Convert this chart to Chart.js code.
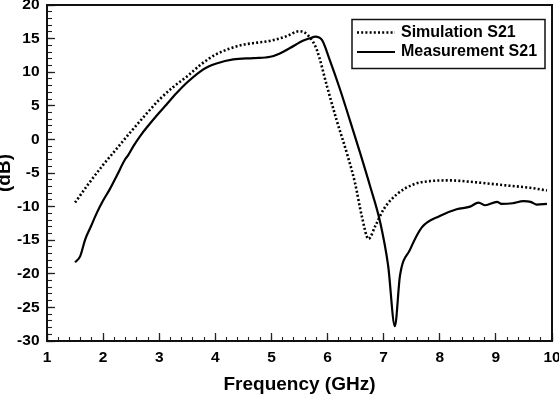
<!DOCTYPE html>
<html><head><meta charset="utf-8">
<script src="https://cdn.jsdelivr.net/npm/chart.js@4.4.1/dist/chart.umd.min.js"></script>
<style>html,body{margin:0;padding:0;background:#fff}#wrap{width:559px;height:402px}</style>
</head><body><div id="wrap"><canvas id="c" width="559" height="402"></canvas></div>
<script>
// ---- data ----
const simFreq = [1.5, 1.75, 2.0, 2.25, 2.5, 2.75, 3.0, 3.25, 3.5, 3.75, 4.0, 4.25, 4.5, 4.75, 5.0, 5.25, 5.5, 5.65, 5.81, 5.99, 6.16, 6.36, 6.49, 6.61, 6.73, 6.85, 7.0, 7.23, 7.53, 7.83, 8.18, 8.54, 8.9, 9.25, 9.61, 9.91];
const simS21  = [-9.4, -6.5, -3.8, -1.3, 1.2, 3.6, 5.9, 7.8, 9.4, 11.2, 12.6, 13.5, 14.1, 14.4, 14.7, 15.3, 16.1, 15.5, 13.3, 7.9, 2.9, -2.5, -6.5, -11.4, -14.8, -12.9, -10.4, -8.2, -6.7, -6.2, -6.1, -6.3, -6.6, -6.9, -7.2, -7.6];
const measFreq = [1.5, 1.59, 1.68, 1.78, 1.89, 2.0, 2.12, 2.25, 2.39, 2.45, 2.54, 2.66, 2.8, 2.96, 3.13, 3.31, 3.5, 3.73, 3.87, 4.02, 4.32, 4.68, 4.98, 5.15, 5.33, 5.57, 5.7, 5.78, 5.9, 6.04, 6.22, 6.4, 6.58, 6.76, 6.94, 7.08, 7.2, 7.29, 7.47, 7.68, 8.0, 8.3, 8.54, 8.69, 8.81, 9.02, 9.1, 9.3, 9.49, 9.62, 9.73, 9.91];
const measS21  = [-18.3, -17.4, -14.9, -13.0, -10.9, -9.1, -7.4, -5.3, -3.0, -2.3, -1.0, 0.5, 2.0, 3.6, 5.2, 6.9, 8.5, 10.1, 10.8, 11.3, 11.9, 12.1, 12.3, 12.8, 13.6, 14.7, 15.1, 15.3, 14.8, 11.8, 7.5, 2.8, -2.0, -7.0, -12.4, -18.8, -27.8, -20.3, -16.4, -13.1, -11.4, -10.4, -10.0, -9.4, -9.8, -9.3, -9.6, -9.5, -9.2, -9.3, -9.7, -9.6];
const seriesLabels = ['Simulation S21', 'Measurement S21'];
const xTitle = 'Frequency (GHz)';
const yTitle = '(dB)';
const xRange = [1, 10], xMajor = 1, xMinor = 0.2;
const yRange = [-30, 20], yMajor = 5, yMinor = 1;

const FONT = '"Liberation Sans", Arial, sans-serif';
const toPoints = (xs, ys) => xs.map((x, i) => ({ x, y: ys[i] }));

const framePlugin = {
  id: 'frame',
  afterDraw(chart) {
    const { ctx, chartArea: a } = chart;
    ctx.save();
    ctx.strokeStyle = '#111';
    ctx.lineWidth = 2;
    ctx.strokeRect(a.left, a.top, a.right - a.left, a.bottom - a.top);
    ctx.restore();
  }
};

const boxLegend = {
  id: 'boxLegend',
  afterDraw(chart, args, o) {
    const { ctx } = chart;
    ctx.save();
    ctx.strokeStyle = '#111';
    ctx.lineWidth = 1.5;
    ctx.strokeRect(o.left, o.top, o.width, o.height);
    ctx.font = 'bold ' + o.fontSize + 'px ' + FONT;
    ctx.textBaseline = 'middle';
    ctx.textAlign = 'left';
    chart.data.datasets.forEach((ds, i) => {
      const y = o.firstRow + i * o.rowGap;
      ctx.beginPath();
      ctx.setLineDash(ds.borderDash || []);
      ctx.lineWidth = ds.borderWidth;
      ctx.strokeStyle = ds.borderColor;
      ctx.moveTo(o.lineX0, y);
      ctx.lineTo(o.lineX1, y);
      ctx.stroke();
      ctx.setLineDash([]);
      ctx.fillStyle = '#000';
      ctx.fillText(ds.label, o.textX, y);
    });
    ctx.restore();
  }
};

const tickFont = { family: FONT, size: 15.5, weight: 'bold', lineHeight: 1 };
const titleFont = { family: FONT, size: 19, weight: 'bold', lineHeight: 1 };

new Chart(document.getElementById('c'), {
  type: 'line',
  data: {
    datasets: [
      { label: seriesLabels[0], data: toPoints(simFreq, simS21), borderColor: '#000', borderWidth: 2.6, borderDash: [2, 2.2], pointRadius: 0, cubicInterpolationMode: 'monotone', fill: false },
      { label: seriesLabels[1], data: toPoints(measFreq, measS21), borderColor: '#000', borderWidth: 2.2, pointRadius: 0, cubicInterpolationMode: 'monotone', fill: false }
    ]
  },
  options: {
    responsive: false,
    devicePixelRatio: 1,
    animation: false,
    layout: { padding: { left: 0, top: 5, right: 7, bottom: 0 } },
    plugins: {
      legend: { display: false },
      tooltip: { enabled: false },
      boxLegend: { left: 352, top: 19.5, width: 193, height: 49, firstRow: 32.5, rowGap: 19.5, lineX0: 357, lineX1: 395, textX: 401, fontSize: 16 }
    },
    scales: {
      x: {
        type: 'linear', position: 'bottom', weight: 1,
        min: xRange[0], max: xRange[1],
        ticks: { stepSize: xMajor, color: '#000', font: tickFont, padding: 17, maxRotation: 0, autoSkip: false },
        grid: { drawOnChartArea: false, drawTicks: true, tickLength: -8, tickColor: '#222', tickWidth: 1.3 },
        border: { display: false },
        title: { display: true, text: xTitle, color: '#000', font: titleFont, padding: { top: 0, bottom: 7.5 } },
        afterFit(s) { s.height = 61; s.paddingLeft = 0; s.paddingRight = 0; }
      },
      xm: {
        type: 'linear', position: 'bottom', weight: 0,
        min: xRange[0], max: xRange[1],
        ticks: { display: false, stepSize: xMinor, autoSkip: false },
        grid: { drawOnChartArea: false, drawTicks: true, tickLength: -4, tickColor: '#222', tickWidth: 1.1 },
        border: { display: false },
        afterFit(s) { s.height = 0; s.paddingLeft = 0; s.paddingRight = 0; }
      },
      y: {
        type: 'linear', position: 'left', weight: 1,
        min: yRange[0], max: yRange[1],
        ticks: { stepSize: yMajor, color: '#000', font: tickFont, padding: 15.5, autoSkip: false },
        grid: { drawOnChartArea: false, drawTicks: true, tickLength: -8, tickColor: '#222', tickWidth: 1.3 },
        border: { display: false },
        title: { display: true, text: yTitle, color: '#000', font: titleFont, padding: { top: -5, bottom: 0 } },
        afterFit(s) { s.width = 47; s.paddingTop = 0; s.paddingBottom = 0; }
      },
      ym: {
        type: 'linear', position: 'left', weight: 0,
        min: yRange[0], max: yRange[1],
        ticks: { display: false, stepSize: yMinor, autoSkip: false },
        grid: { drawOnChartArea: false, drawTicks: true, tickLength: -5, tickColor: '#222', tickWidth: 1.1 },
        border: { display: false },
        afterFit(s) { s.width = 0; s.paddingTop = 0; s.paddingBottom = 0; }
      }
    }
  },
  plugins: [framePlugin, boxLegend]
});
</script>
</body></html>
